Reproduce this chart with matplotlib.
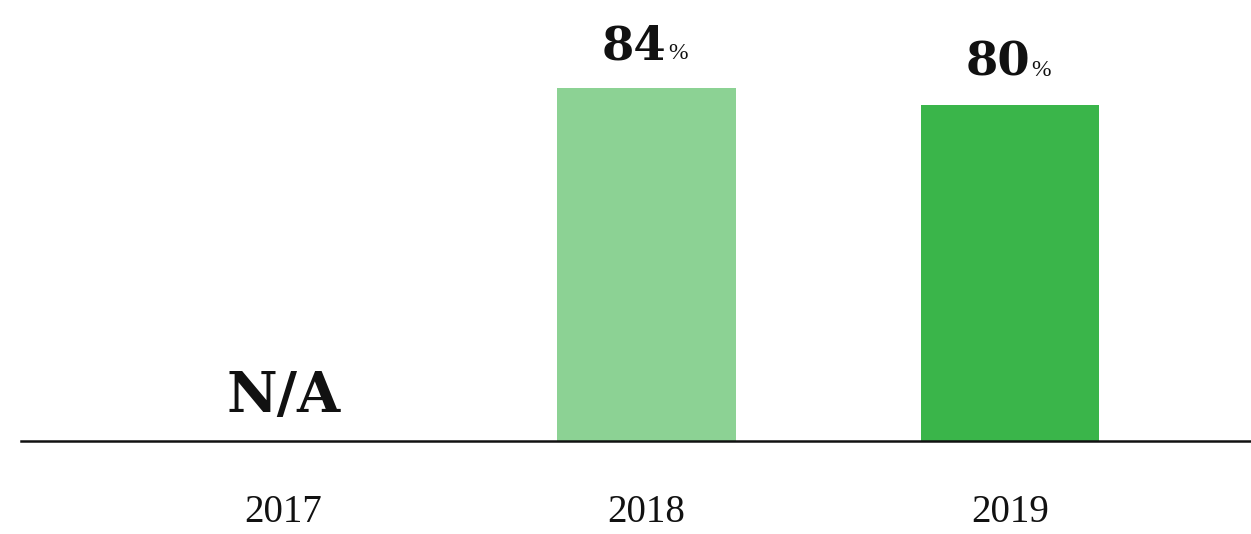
import matplotlib.pyplot as plt

years = ["2017", "2018", "2019"]
values = [None, 84, 80]
bar_colors = ["#8CD294", "#8CD294", "#3AB54A"]

plt.rcParams['font.family'] = ['Liberation Serif', 'DejaVu Serif']
bold = ['DejaVu Serif']

fig = plt.figure(figsize=(12.51, 5.34), dpi=100)
ax = fig.add_axes([21 / 1251, 93 / 534, 1230 / 1251, 420 / 534])

x = list(range(len(years)))
for i, v in enumerate(values):
    if v is None:
        ax.text(i, 7, "N/A", ha='center', va='baseline', fontsize=40,
                fontweight='bold', family=bold, color='#111111')
        continue
    ax.bar(i, v, width=0.49, color=bar_colors[i])
    ax.annotate(str(v), (i, v), xytext=(14.5, 21), textcoords='offset points',
                ha='right', va='baseline', fontsize=33.5, fontweight='bold',
                family=bold, color='#111111')
    ax.annotate("%", (i, v), xytext=(15.5, 21), textcoords='offset points',
                ha='left', va='baseline', fontsize=17, color='#111111')

ax.set_xlim(-0.721, 2.663)
ax.set_ylim(0, 100)
ax.set_xticks(x)
ax.set_xticklabels(years, fontsize=28, color='#111111')
ax.tick_params(axis='x', length=0, pad=38)
ax.set_yticks([])
for s in ['top', 'right', 'left']:
    ax.spines[s].set_visible(False)
ax.spines['bottom'].set_linewidth(1.8)
ax.spines['bottom'].set_color('#111111')

fig.savefig("out.png", dpi=100)
